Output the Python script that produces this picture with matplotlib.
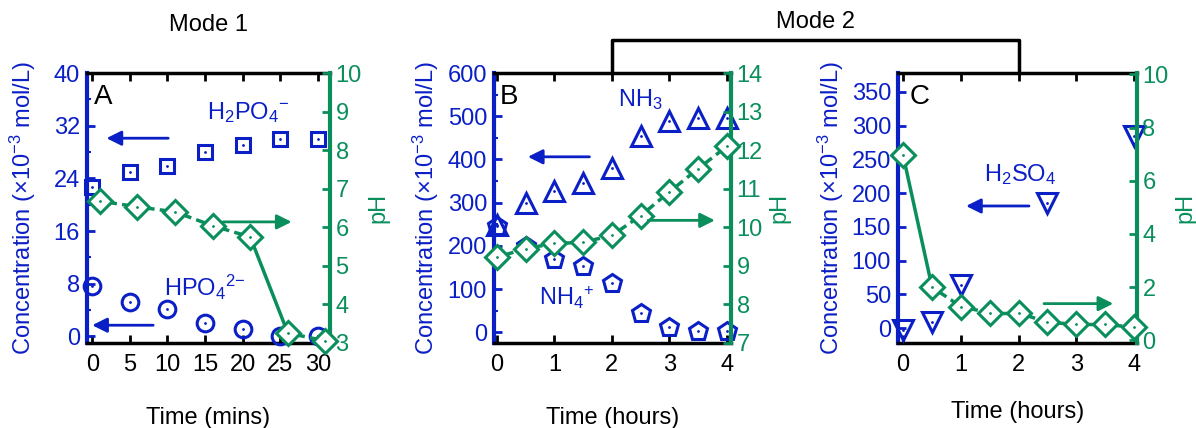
import numpy as np
import matplotlib
matplotlib.use('Agg')
import matplotlib.pyplot as plt

plt.rcParams['font.family'] = ['Liberation Sans', 'DejaVu Sans']
plt.rcParams['mathtext.fontset'] = 'custom'
plt.rcParams['mathtext.rm'] = 'Liberation Sans'
plt.rcParams['mathtext.it'] = 'Liberation Sans:italic'
plt.rcParams['mathtext.bf'] = 'Liberation Sans:bold'

BLUE = '#0b1fc6'
GREEN = '#0a8f5c'

# panel A (minutes)
t_a = [0, 5, 10, 15, 20, 25, 30]
h2po4 = [22.7, 24.9, 25.9, 28.0, 29.0, 30.0, 30.0]
hpo4 = [7.6, 5.3, 4.1, 2.1, 1.2, 0.1, 0.1]
t_a_ph = [1, 6, 11, 16, 21, 26, 31]
ph_a = [6.68, 6.53, 6.40, 6.04, 5.75, 3.26, 3.05]
seg_a = ['--', '--', '--', '--', '-', '--']

# panel B (hours)
t_b = [0, 0.5, 1, 1.5, 2, 2.5, 3, 3.5, 4]
nh3 = [248, 300, 326, 346, 381, 455, 490, 496, 497]
nh4 = [245, 199, 169, 153, 115, 44, 12, 3, 3]
ph_b = [9.22, 9.45, 9.58, 9.61, 9.79, 10.30, 10.92, 11.52, 12.10]
seg_b = ['-.'] * 8

# panel C (hours)
t_c = [0, 0.5, 1, 2.5, 4]
h2so4 = [-2, 9, 64, 185, 285]
t_c_ph = [0, 0.5, 1, 1.5, 2, 2.5, 3, 3.5, 4]
ph_c = [6.95, 2.0, 1.27, 1.03, 1.03, 0.68, 0.6, 0.6, 0.49]
seg_c = ['-'] + ['-.'] * 7

FS = 17

fig = plt.figure(figsize=(11.96, 4.28), dpi=100)


def style_axes(ax, ax2, ylpad):
    for s in ['top', 'bottom']:
        ax.spines[s].set_linewidth(2.5)
        ax.spines[s].set_color('black')
    ax.spines['left'].set_color(BLUE)
    ax.spines['left'].set_linewidth(3)
    ax.spines['right'].set_visible(False)
    ax2.spines['right'].set_color(GREEN)
    ax2.spines['right'].set_linewidth(3)
    for s in ['top', 'bottom', 'left']:
        ax2.spines[s].set_visible(False)
    ax.tick_params(axis='x', direction='in', top=True, length=6, width=2,
                   labelsize=FS, pad=8, colors='black')
    ax.tick_params(axis='y', direction='in', length=6, width=2,
                   labelsize=FS, colors=BLUE, pad=5)
    ax.tick_params(axis='y', which='minor', direction='in', length=3, width=1.5,
                   colors=BLUE)
    ax2.tick_params(axis='y', direction='in', length=6, width=2,
                    labelsize=FS, colors=GREEN, pad=4)
    ax.set_ylabel(r'Concentration ($\times$10$^{-3}$ mol/L)', color=BLUE,
                  fontsize=FS, labelpad=ylpad)
    ax2.set_ylabel('pH', color=GREEN, fontsize=FS, labelpad=4)


def ph_line(ax2, x, y, segs):
    for i, ls in enumerate(segs):
        if ls == '--':
            d = (5, 1.5)
        elif ls == '-.':
            d = (5, 1.5, 1.5, 1.5)
        else:
            d = (None, None)
        ax2.plot(x[i:i + 2], y[i:i + 2], color=GREEN, lw=2.5, dashes=d, zorder=2)
    ax2.plot(x, y, ls='none', marker='D', ms=12.5, mfc='white', mec=GREEN,
             mew=2.2, clip_on=False, zorder=3)
    ax2.plot(x, y, ls='none', marker='.', ms=2, color=GREEN, clip_on=False, zorder=4)


def conc_points(ax, x, y, marker, ms):
    ax.plot(x, y, ls='none', marker=marker, ms=ms, mfc='none', mec=BLUE,
            mew=2.2, clip_on=False, zorder=3)
    ax.plot(x, y, ls='none', marker='.', ms=2, color=BLUE, clip_on=False, zorder=4)


def arrow(ax, x0, x1, y, color):
    ax.annotate('', xy=(x1, y), xytext=(x0, y),
                arrowprops=dict(arrowstyle='-|>', color=color, lw=2,
                                mutation_scale=22, shrinkA=0, shrinkB=0))


# ---- A
axA = fig.add_axes([0.0727, 0.1986, 0.2032, 0.6308])
axA2 = axA.twinx()
style_axes(axA, axA2, 11)
axA.set_xlim(-0.7, 31.6)
axA.set_ylim(-1, 40)
axA2.set_ylim(3, 10)
axA.set_xticks(t_a)
axA.set_yticks([0, 8, 16, 24, 32, 40])
axA.set_yticks([4, 12, 20, 28, 36], minor=True)
axA2.set_yticks(range(3, 11))
conc_points(axA, t_a, h2po4, 's', 10.5)
conc_points(axA, t_a, hpo4, 'o', 12)
ph_line(axA2, t_a_ph, ph_a, seg_a)
axA.text(15.3, 34, r'H$_2$PO$_4{}^{-}$', color=BLUE, fontsize=FS, va='center')
axA.text(9.6, 7.5, r'HPO$_4{}^{2{-}}$', color=BLUE, fontsize=FS, va='center')
axA.text(0.03, 0.91, 'A', transform=axA.transAxes, fontsize=20, va='center')
arrow(axA, 10.1, 1.9, 30.1, BLUE)
arrow(axA, 8.1, 0.0, 1.7, BLUE)
arrow(axA2, 17.4, 26.5, 6.14, GREEN)
axA.set_xlabel('Time (mins)', fontsize=FS, labelpad=22)
axA.set_title('Mode 1', fontsize=FS, pad=30)

# ---- B
axB = fig.add_axes([0.4130, 0.1986, 0.1982, 0.6308])
axB2 = axB.twinx()
style_axes(axB, axB2, 5)
axB.set_xlim(-0.05, 4.07)
axB.set_ylim(-25, 600)
axB2.set_ylim(7, 14)
axB.set_xticks(range(0, 5))
axB.set_yticks(range(0, 601, 100))
axB.set_yticks(range(50, 600, 100), minor=True)
axB2.set_yticks(range(7, 15))
conc_points(axB, t_b, nh3, '^', 14)
conc_points(axB, t_b, nh4, 'p', 13.5)
ph_line(axB2, t_b, ph_b, seg_b)
axB.text(2.1, 538, r'NH$_3$', color=BLUE, fontsize=FS, va='center')
axB.text(0.73, 81, r'NH$_4{}^{+}$', color=BLUE, fontsize=FS, va='center')
axB.text(0.025, 0.91, 'B', transform=axB.transAxes, fontsize=20, va='center')
arrow(axB, 1.61, 0.54, 406, BLUE)
arrow(axB2, 2.63, 3.79, 10.18, GREEN)
axB.set_xlabel('Time (hours)', fontsize=FS, labelpad=22)

# ---- C
axC = fig.add_axes([0.7508, 0.1986, 0.1998, 0.6308])
axC2 = axC.twinx()
style_axes(axC, axC2, 4)
axC.set_xlim(-0.09, 4.05)
axC.set_ylim(-22, 378)
axC2.set_ylim(-0.1, 10.05)
axC.set_xticks(range(0, 5))
axC.set_yticks(range(0, 351, 50))
axC2.set_yticks(range(0, 11, 2))
conc_points(axC, t_c, h2so4, 'v', 14)
ph_line(axC2, t_c_ph, ph_c, seg_c)
axC.text(1.4, 227, r'H$_2$SO$_4$', color=BLUE, fontsize=FS, va='center')
axC.text(0.05, 0.91, 'C', transform=axC.transAxes, fontsize=20, va='center')
arrow(axC, 2.18, 1.09, 181, BLUE)
arrow(axC2, 2.44, 3.64, 1.38, GREEN)
axC.set_xlabel('Time (hours)', fontsize=FS, labelpad=18)

# ---- Mode 2 bracket joining t=2 on panels B and C
xb = axB.transData.transform((2, 0))[0] / fig.dpi / fig.get_figwidth()
xc = axC.transData.transform((2, 0))[0] / fig.dpi / fig.get_figwidth()
top = 0.1986 + 0.6308
ybr = 1 - 40 / 428
fig.add_artist(plt.Line2D([xb, xb, xc, xc], [top, ybr, ybr, top],
                          color='black', lw=2.5, transform=fig.transFigure))
fig.text((xb + xc) / 2, 1 - 22 / 428, 'Mode 2', fontsize=FS,
         ha='center', va='center')

fig.savefig('out.png', dpi=100)
